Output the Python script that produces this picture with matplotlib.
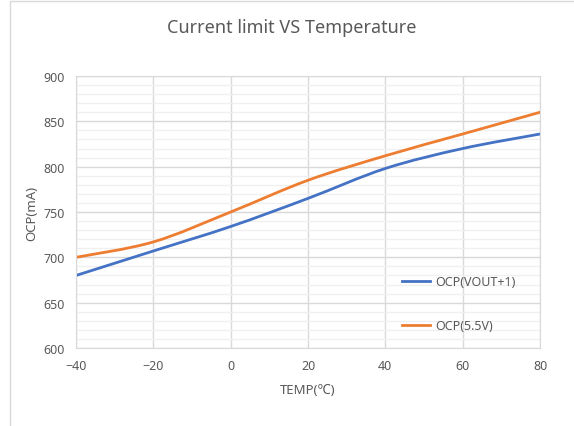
# -*- coding: utf-8 -*-
# Current limit vs temperature, Excel-style smoothed lines
from matplotlib import pyplot as plt
from matplotlib.path import Path
from matplotlib.patches import PathPatch, Rectangle
from matplotlib.lines import Line2D
import numpy as np

plt.rcParams['font.family'] = ['Noto Sans', 'Noto Sans CJK SC', 'DejaVu Sans']

# Data
temp = [-40, -20, 0, 20, 40, 60, 80]
ocp_vout = [680, 707, 734, 765, 798, 820, 836]
ocp_55v = [700, 717, 750, 785, 812, 836, 860]
labels = ['OCP(VOUT+1)', 'OCP(5.5V)']
colors = ['#4472C4', '#ED7D31']


def smooth_path(x, y):
    # cubic bezier through the points, like Excel's smoothed line
    x = np.asarray(x, float)
    y = np.asarray(y, float)
    n = len(x)
    verts = [(x[0], y[0])]
    codes = [Path.MOVETO]
    for i in range(n - 1):
        x0, y0 = (x[i - 1], y[i - 1]) if i > 0 else (x[i], y[i])
        x3, y3 = (x[i + 2], y[i + 2]) if i + 2 < n else (x[i + 1], y[i + 1])
        c1 = (x[i] + (x[i + 1] - x0) / 6, y[i] + (y[i + 1] - y0) / 6)
        c2 = (x[i + 1] - (x3 - x[i]) / 6, y[i + 1] - (y3 - y[i]) / 6)
        verts += [c1, c2, (x[i + 1], y[i + 1])]
        codes += [Path.CURVE4] * 3
    return Path(verts, codes)


fig = plt.figure(figsize=(5.74, 4.27), dpi=100)
fig.patches.append(Rectangle((10 / 574, -0.1), 1.2, 1.1 - 2 / 427, transform=fig.transFigure,
                             fill=False, edgecolor='#d9d9d9', linewidth=1.0))
ax = fig.add_axes([76 / 574, 1 - 349 / 427, 464 / 574, 272 / 427])

ax.set_xlim(-40, 80)
ax.set_ylim(600, 900)
ax.set_xticks(np.arange(-40, 81, 20))
ax.set_yticks(np.arange(600, 901, 50))
ax.set_yticks(np.arange(600, 901, 10), minor=True)
ax.grid(which='major', color='#d9d9d9', linewidth=1.0)
ax.grid(which='minor', axis='y', color='#f0f0f0', linewidth=1.0)
ax.set_axisbelow(True)
for s in ax.spines.values():
    s.set_color('#d9d9d9')
ax.tick_params(which='both', length=0, labelsize=9, labelcolor='#595959', pad=8)

for yv, c, lab in zip([ocp_vout, ocp_55v], colors, labels):
    ax.add_patch(PathPatch(smooth_path(temp, yv), facecolor='none', edgecolor=c,
                           linewidth=2.0, capstyle='round', joinstyle='round'))

handles = [Line2D([], [], color=c, linewidth=2.0) for c in colors]
leg = ax.legend(handles, labels, loc='center left', bbox_to_anchor=(0.679, 0.163),
                frameon=False, fontsize=9, handlelength=2.2, handletextpad=0.4,
                labelspacing=2.45)
for t in leg.get_texts():
    t.set_color('#595959')

fig.text(292 / 574, 1 - 28 / 427, 'Current limit VS Temperature', fontsize=13,
         color='#595959', ha='center', va='center')
ax.set_xlabel('TEMP(℃)', fontsize=9.5, color='#595959', labelpad=8)
ax.set_ylabel('OCP(mA)', fontsize=9.5, color='#595959', labelpad=4)

fig.savefig('out.png', dpi=100)
